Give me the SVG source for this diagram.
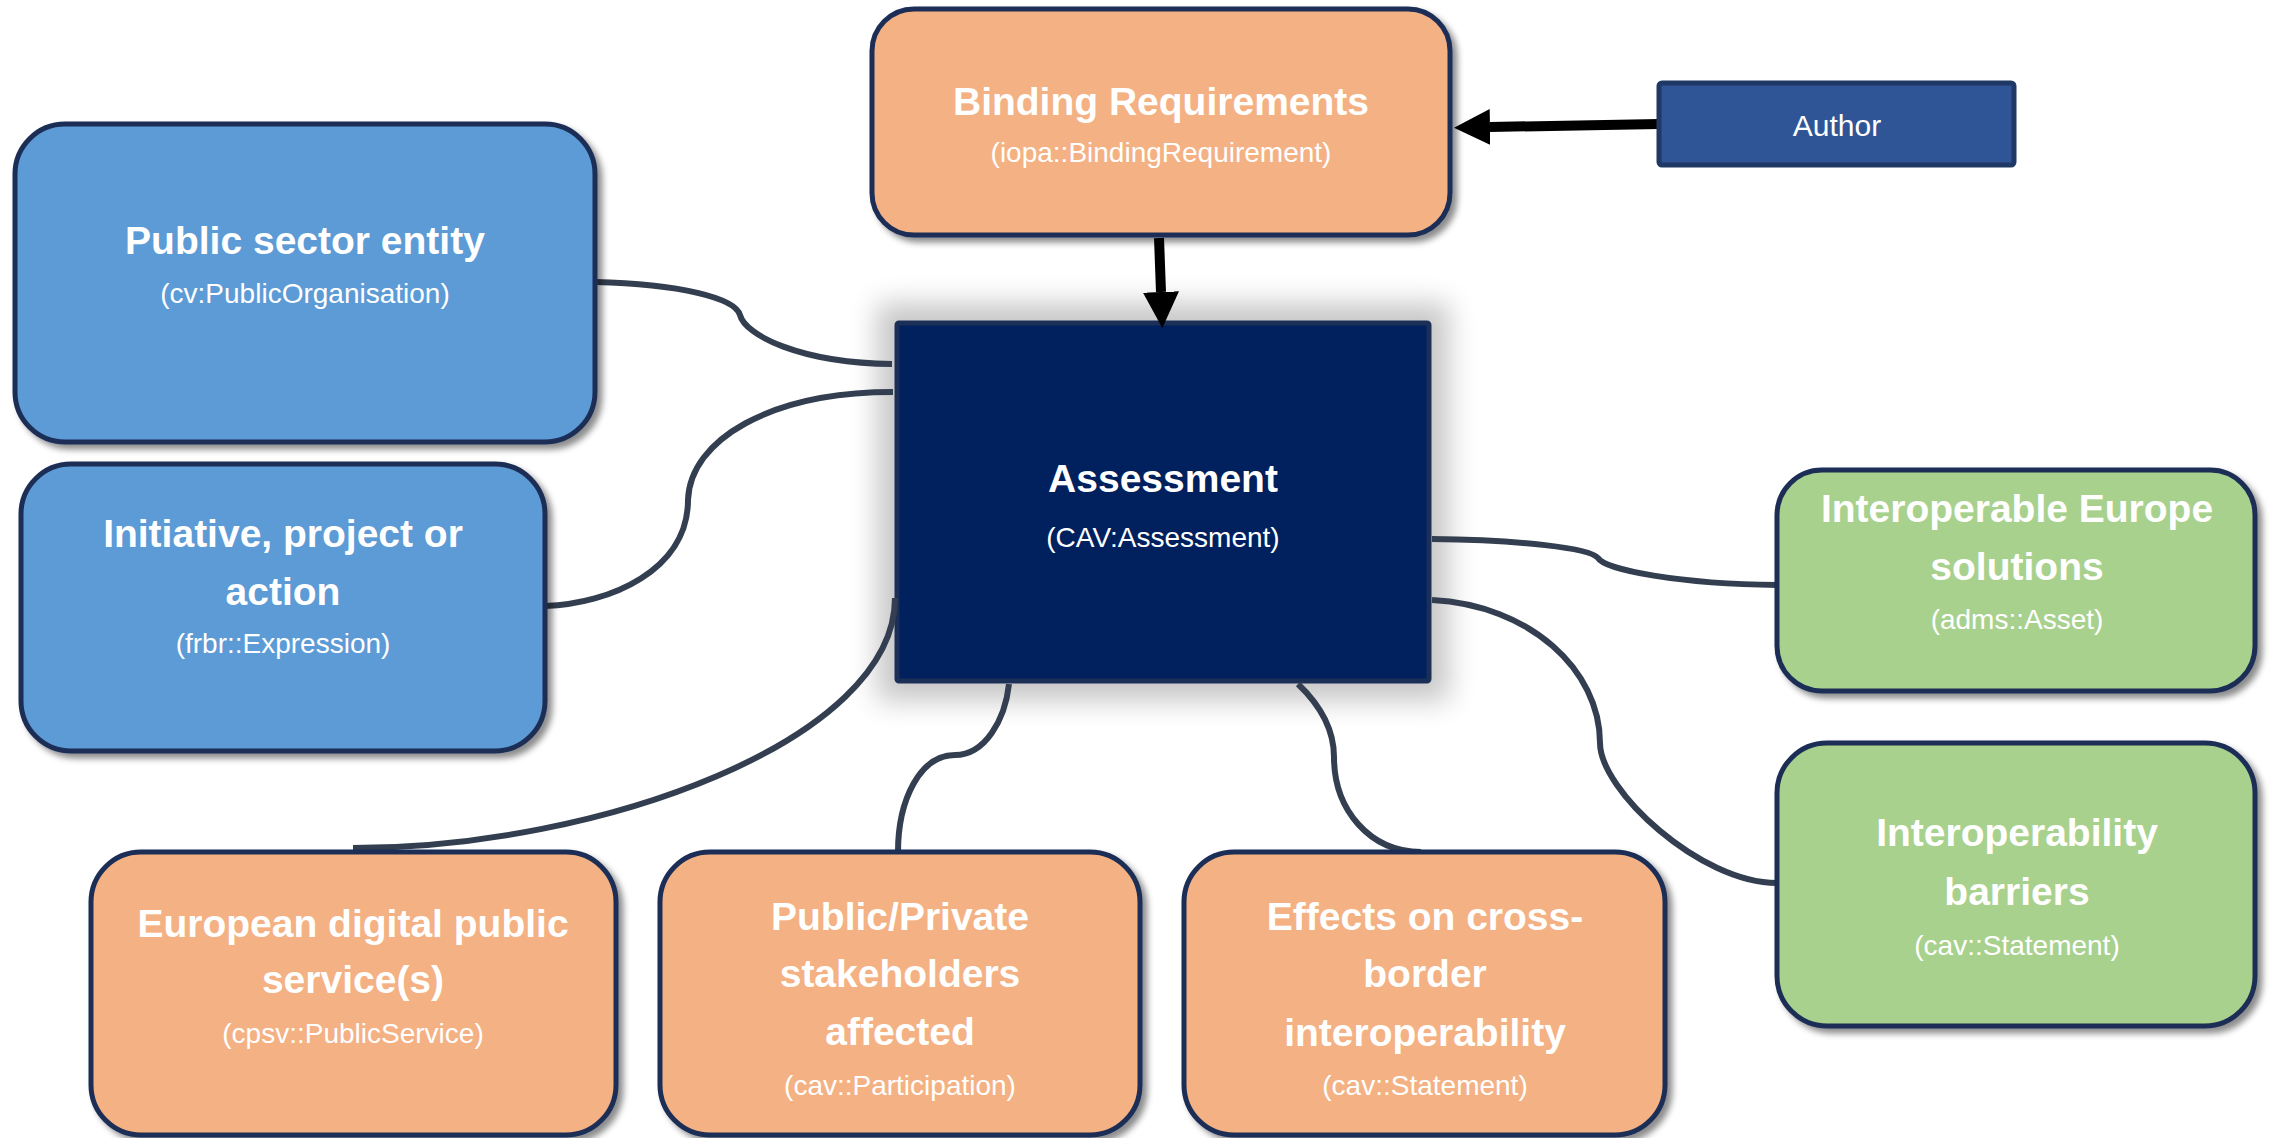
<svg xmlns="http://www.w3.org/2000/svg" width="2280" height="1138" viewBox="0 0 2280 1138">
<defs>
<filter id="shadow" x="-10%" y="-10%" width="125%" height="125%">
<feGaussianBlur in="SourceAlpha" stdDeviation="3"/>
<feOffset dx="5" dy="5" result="b"/>
<feFlood flood-color="#000" flood-opacity="0.45"/>
<feComposite in2="b" operator="in"/>
<feMerge><feMergeNode/><feMergeNode in="SourceGraphic"/></feMerge>
</filter>
<filter id="blur" x="-30%" y="-30%" width="160%" height="160%">
<feGaussianBlur stdDeviation="14"/>
</filter>
<marker id="arrow" viewBox="0 0 36 36" refX="0" refY="18" markerWidth="36" markerHeight="36" markerUnits="userSpaceOnUse" orient="auto">
<path d="M0,0 L36,18 L0,36 z" fill="#000"/>
</marker>
</defs>
<style>
.box{stroke:#1C2F57;stroke-width:5}
.blue{fill:#5B9BD5}
.orange{fill:#F4B183}
.green{fill:#A9D18E}
.t{font-family:"Liberation Sans",Arial,sans-serif;font-weight:bold;font-size:39px;fill:#fff;text-anchor:middle}
.s{font-family:"Liberation Sans",Arial,sans-serif;font-size:28px;fill:#fff;text-anchor:middle}
.conn{fill:none;stroke:#333F50;stroke-width:6}
.arr{fill:none;stroke:#000;stroke-width:10}
</style>
<rect width="2280" height="1138" fill="#fff"/>

<g id="assessment">
<rect x="877" y="303" width="572" height="398" fill="#000" opacity="0.22" filter="url(#blur)"/>
<rect x="897" y="323" width="532" height="358" rx="2" fill="#00205E" stroke="#1C2F57" stroke-width="5"/>
<text class="t" x="1163" y="492">Assessment</text>
<text class="s" x="1163" y="547">(CAV:Assessment)</text>
</g>

<g id="connectors">
<path class="conn" d="M595,282 C680,284 735,298 740,315 C745,335 800,363 892,364"/>
<path class="conn" d="M545,606 C610,604 688,570 688,500 C690,440 770,392 893,392"/>
<path class="conn" d="M895,598 C895,740 600,848 353,848"/>
<path class="conn" d="M1009,684 C1005,720 985,755 955,755 C920,755 898,800 898,852"/>
<path class="conn" d="M1298,684 C1320,705 1334,730 1334,757 C1334,810 1370,852 1421,852"/>
<path class="conn" d="M1432,539 C1520,540 1590,548 1598,558 C1605,570 1680,584 1777,585"/>
<path class="conn" d="M1432,600 C1530,605 1600,670 1600,743 C1600,790 1700,883 1777,883"/>
<line class="arr" x1="1659" y1="124" x2="1490" y2="127" marker-end="url(#arrow)"/>
<line class="arr" x1="1159" y1="238" x2="1161" y2="292" marker-end="url(#arrow)"/>
</g>

<g id="binding">
<rect class="box orange" x="872" y="9" width="578" height="226" rx="42" filter="url(#shadow)"/>
<text class="t" x="1161" y="115">Binding Requirements</text>
<text class="s" x="1161" y="162">(iopa::BindingRequirement)</text>
</g>

<g id="author">
<rect x="1659" y="83" width="355" height="82" rx="3" fill="#2F5597" stroke="#1F3864" stroke-width="5"/>
<text class="s" x="1837" y="136" style="font-size:30px">Author</text>
</g>

<g id="public-sector-entity">
<rect class="box blue" x="15" y="124" width="580" height="318" rx="50" filter="url(#shadow)"/>
<text class="t" x="305" y="254">Public sector entity</text>
<text class="s" x="305" y="303">(cv:PublicOrganisation)</text>
</g>

<g id="initiative">
<rect class="box blue" x="21" y="464" width="524" height="287" rx="50" filter="url(#shadow)"/>
<text class="t" x="283" y="547">Initiative, project or</text>
<text class="t" x="283" y="605">action</text>
<text class="s" x="283" y="653">(frbr::Expression)</text>
</g>

<g id="european-service">
<rect class="box orange" x="91" y="852" width="525" height="283" rx="50" filter="url(#shadow)"/>
<text class="t" x="353" y="937">European digital public</text>
<text class="t" x="353" y="993">service(s)</text>
<text class="s" x="353" y="1043">(cpsv::PublicService)</text>
</g>

<g id="stakeholders">
<rect class="box orange" x="660" y="852" width="480" height="283" rx="50" filter="url(#shadow)"/>
<text class="t" x="900" y="930">Public/Private</text>
<text class="t" x="900" y="987">stakeholders</text>
<text class="t" x="900" y="1045">affected</text>
<text class="s" x="900" y="1095">(cav::Participation)</text>
</g>

<g id="effects">
<rect class="box orange" x="1184" y="852" width="481" height="283" rx="50" filter="url(#shadow)"/>
<text class="t" x="1425" y="930">Effects on cross-</text>
<text class="t" x="1425" y="987">border</text>
<text class="t" x="1425" y="1046">interoperability</text>
<text class="s" x="1425" y="1095">(cav::Statement)</text>
</g>

<g id="ie-solutions">
<rect class="box green" x="1777" y="470" width="478" height="221" rx="45" filter="url(#shadow)"/>
<text class="t" x="2017" y="522">Interoperable Europe</text>
<text class="t" x="2017" y="580">solutions</text>
<text class="s" x="2017" y="629">(adms::Asset)</text>
</g>

<g id="barriers">
<rect class="box green" x="1777" y="743" width="478" height="283" rx="50" filter="url(#shadow)"/>
<text class="t" x="2017" y="846">Interoperability</text>
<text class="t" x="2017" y="905">barriers</text>
<text class="s" x="2017" y="955">(cav::Statement)</text>
</g>
</svg>
